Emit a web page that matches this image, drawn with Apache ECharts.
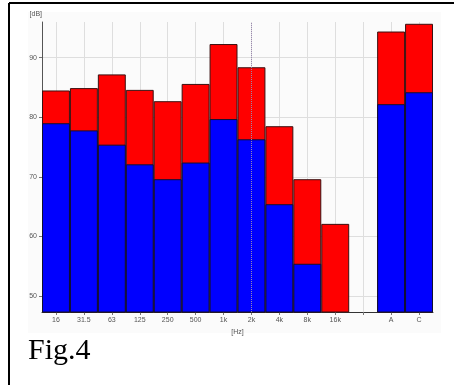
<!DOCTYPE html>
<html>
<head>
<meta charset="utf-8">
<script src="https://cdn.jsdelivr.net/npm/echarts@6/dist/echarts.min.js"></script>
<style>
  html, body { margin: 0; padding: 0; background: #fff; }
  #main { width: 454px; height: 385px; }
</style>
</head>
<body>
<div id="main"></div>
<script>
    // octave bands + A / C totals (empty slot between)
    var bands = ['16', '31.5', '63', '125', '250', '500', '1k', '2k', '4k', '8k', '16k', '', 'A', 'C'];
    var levelRed = [84.5, 84.9, 87.2, 84.6, 82.7, 85.6, 92.3, 88.4, 78.5, 69.6, 62.1, '-', 94.4, 95.7];
    var levelBlue = [79.0, 77.8, 75.4, 72.1, 69.6, 72.4, 79.7, 76.3, 65.4, 55.4, '-', '-', 82.2, 84.2];
    var yTicks = [50, 60, 70, 80, 90];
    var cursorBand = '2k';

    var chart = echarts.init(document.getElementById('main'));

    var option = {
        animation: false,
        backgroundColor: '#fff',
        graphic: [
            { type: 'rect', z: -10, shape: { x: 28, y: 12, width: 413, height: 321 }, style: { fill: '#fbfbfb' } },
            { type: 'line', shape: { x1: 9, y1: 3, x2: 454, y2: 3 }, style: { stroke: '#000', lineWidth: 2 } },
            { type: 'line', shape: { x1: 9, y1: 3, x2: 9, y2: 385 }, style: { stroke: '#000', lineWidth: 2 } },
            { type: 'text', left: 28, top: 336, style: { text: 'Fig.4', font: '30px "Liberation Serif", serif', fill: '#000' } }
        ],
        grid: { left: 42, top: 22, right: 21, bottom: 73 },
        xAxis: {
            type: 'category',
            data: bands,
            name: '[Hz]',
            nameLocation: 'middle',
            nameGap: 14,
            nameTextStyle: { fontSize: 7, color: '#555', fontFamily: 'Liberation Sans' },
            axisLine: { lineStyle: { color: '#333', width: 1 } },
            axisTick: { show: true, alignWithLabel: true, length: 3, lineStyle: { color: '#777' } },
            axisLabel: { fontSize: 7, color: '#555', margin: 5, interval: 0, fontFamily: 'Liberation Sans' },
            splitLine: { show: true, alignWithLabel: true, lineStyle: { color: '#dedede', width: 1 } }
        },
        yAxis: {
            type: 'value',
            min: 47.3,
            max: 96,
            name: '[dB]',
            nameLocation: 'end',
            nameGap: 4,
            nameTextStyle: { fontSize: 7, color: '#555', align: 'right', fontFamily: 'Liberation Sans' },
            axisLine: { show: true, lineStyle: { color: '#555', width: 1 } },
            axisTick: { show: true, length: 3, customValues: yTicks, lineStyle: { color: '#777' } },
            axisLabel: { fontSize: 7, color: '#555', margin: 5, customValues: yTicks, fontFamily: 'Liberation Sans' },
            splitLine: { show: true, lineStyle: { color: '#dedede', width: 1 } }
        },
        series: [
            {
                name: 'total',
                type: 'bar',
                data: levelRed,
                barWidth: '100%',
                barGap: '-100%',
                itemStyle: { color: '#ff0000', borderColor: '#3a1010', borderWidth: 1 }
            },
            {
                name: 'weighted',
                type: 'bar',
                data: levelBlue,
                barWidth: '100%',
                barGap: '-100%',
                itemStyle: { color: '#0000ff', borderColor: '#101030', borderWidth: 1 },
                markLine: {
                    silent: true,
                    symbol: 'none',
                    label: { show: false },
                    lineStyle: { type: 'dotted', color: '#9a88b0', width: 1 },
                    data: [{ xAxis: cursorBand }]
                }
            }
        ]
    };

    chart.setOption(option);
</script>
</body>
</html>
